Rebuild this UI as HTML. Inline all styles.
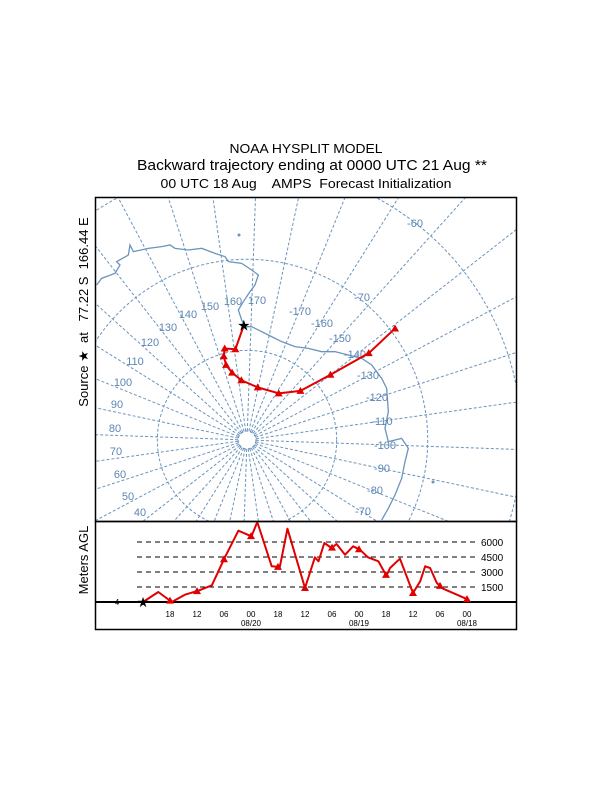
<!DOCTYPE html>
<html><head><meta charset="utf-8"><style>
html,body{margin:0;padding:0;background:#fff;width:612px;height:792px;overflow:hidden}
svg{display:block;font-family:"Liberation Sans",Arial,sans-serif}
</style></head><body>
<svg id="chart" width="612" height="792" viewBox="0 0 612 792">
<text x="306" y="153" font-size="13" text-anchor="middle" textLength="153" lengthAdjust="spacingAndGlyphs">NOAA HYSPLIT MODEL</text>
<text x="312" y="170" font-size="15" text-anchor="middle" textLength="350" lengthAdjust="spacingAndGlyphs">Backward trajectory ending at 0000 UTC 21 Aug **</text>
<text x="306" y="188" font-size="13" text-anchor="middle" textLength="291" lengthAdjust="spacingAndGlyphs" xml:space="preserve">00 UTC 18 Aug    AMPS  Forecast Initialization</text>
<text transform="translate(88,312) rotate(-90)" font-size="13" text-anchor="middle" xml:space="preserve">Source ★  at   77.22 S  166.44 E</text>
<text transform="translate(88,560) rotate(-90)" font-size="13" text-anchor="middle">Meters AGL</text>
<defs><clipPath id="mapclip"><rect x="96" y="198" width="420" height="323"/></clipPath></defs>
<g id="map" clip-path="url(#mapclip)"></g>
<rect x="95.5" y="197.5" width="421" height="324" fill="none" stroke="#000" stroke-width="1.5"/>
<g id="prof"></g>
<rect x="95.5" y="521.5" width="421" height="108" fill="none" stroke="#000" stroke-width="1.5"/>
</svg>
<script>
// trajectory data (lat, lon)
const trajLat = [-77.22,-79.8,-79.5,-80.3,-81.3,-82.3,-83.3,-84.0,-83.7,-81.9,-78.2,-73.4,-69.5];
const trajLon = [166.44,160.7,154.3,152.5,152.4,155.5,162.6,179.5,-157.8,-144.6,-140,-137.5,-139];
// height profile data
const hoursBack = [0,3.4,6.4,9.3,12.3,15.3,18.2,21.2,24.1,25.4,28.6,30.4,32.1,36,38.2,39,40.3,41.9,43,44.9,46.7,48.2,50,52.3,54.1,54.9,57.1,60,61.6,62.7,63.8,65.3,66.7,72.3];
const heights = [0,1000,0,730,1130,1670,4470,7130,6570,8000,3570,3500,7330,1400,4470,4070,5900,5400,5800,4730,5570,5230,4470,4070,2630,3400,4330,900,2070,3570,3400,1900,1330,230];
const levels = [1500,3000,4500,6000];
const timeTicks = ["18","12","06","00","18","12","06","00","18","12","06","00"];
const dateLabels = [["08/20",24],["08/19",48],["08/18",72]];
const labelPos = {"-60":[415,223],"-70":[362,297],"-170":[300,311],"-160":[322,323],"-150":[340,338],"-140":[355,354],"-130":[368,375],"-120":[377,397],"-110":[382,421],"-100":[385,445],"-90":[382,468],"-80":[375,490],"-70b":[363,511],"170":[257,300],"160":[233,301],"150":[210,306],"140":[188,314],"130":[168,327],"120":[150,342],"110":[135,361],"100":[123,382],"90":[117,404],"80":[115,428],"70":[116,451],"60":[120,474],"50":[128,496],"40":[140,512]};
const NS="http://www.w3.org/2000/svg";
const CX=247, CY=440, K=1025, BLUE="#6b94bd";
const RX0=96,RX1=516,RY0=198,RY1=521;
function el(tag,attrs,parent){const e=document.createElementNS(NS,tag);for(const k in attrs)e.setAttribute(k,attrs[k]);parent.appendChild(e);return e;}
function wrap(a){a=((a%360)+360)%360;return a>180?a-360:a;}
function proj(lat,lon){const r=K*Math.tan((90+lat)/2*Math.PI/180);const th=(-2-wrap(lon+100))*Math.PI/180;return [CX+r*Math.cos(th),CY-r*Math.sin(th)];}
const map=document.getElementById('map');
[-89,-80,-70,-60].forEach(lat=>{const r=K*Math.tan((90+lat)/2*Math.PI/180);
 const c=el('circle',{cx:CX,cy:CY,r:r,fill:'none',stroke:BLUE,'stroke-width':1,'stroke-dasharray':'3,2'},map);
 
 });
for(let lon=-180;lon<180;lon+=10){const a=proj(-89,lon),b=proj(-80,lon);
 const dx=b[0]-a[0],dy=b[1]-a[1];let t=1e9;
 if(dx>0)t=Math.min(t,(RX1-a[0])/dx);if(dx<0)t=Math.min(t,(RX0-a[0])/dx);
 if(dy>0)t=Math.min(t,(RY1-a[1])/dy);if(dy<0)t=Math.min(t,(RY0-a[1])/dy);
 const l=el('line',{x1:a[0],y1:a[1],x2:a[0]+dx*t,y2:a[1]+dy*t,stroke:BLUE,'stroke-width':1,'stroke-dasharray':'3,2'},map);
 
 }
const coastZ=[[5,270],[20,250],[60,235],[75,210],[65,200],[100,180],[105,150],[115,170],[160,160],[200,155],[225,150],[240,160],[280,165],[320,160],[360,175],[390,185],[400,200],[440,205],[470,225],[490,240],[480,270],[465,290],[445,320],[430,345],[440,375],[450,395],[470,395],[520,420],[560,440],[600,455],[640,460],[680,470],[720,470],[760,480],[800,490],[830,510],[860,550],[875,580],[880,650],[870,700],[880,740],[920,730],[940,760],[930,800],[920,850],[900,900],[880,940],[860,975]];
const cp=el('polyline',{points:coastZ.map(p=>(95+p[0]/3)+','+(195+p[1]/3)).join(' '),fill:'none',stroke:BLUE,'stroke-width':1.3},map);


[[239,235],[433,482]].forEach(p=>{const d=el('circle',{cx:p[0],cy:p[1],r:1.5,fill:BLUE},map);
 
 });
for(const k in labelPos){const p=labelPos[k];const t=el('text',{x:p[0],y:p[1]+4,'font-size':11,fill:'#5b86b3','text-anchor':'middle'},map);t.textContent=k.replace('b','');
 
 }
const tp=trajLat.map((la,i)=>proj(la,trajLon[i]));
const tl=el('polyline',{points:tp.map(p=>p.join(',')).join(' '),fill:'none',stroke:'#e00000','stroke-width':2,'stroke-linejoin':'round'},map);


tp.slice(1).forEach(p=>{const m=el('polygon',{points:`${p[0]},${p[1]-4} ${p[0]-4},${p[1]+3} ${p[0]+4},${p[1]+3}`,fill:'#e00000'},map);
 
 });
const st=el('text',{x:tp[0][0],y:tp[0][1]+5,'font-size':15,'text-anchor':'middle',fill:'#000'},map);st.textContent='★';


const prof=document.getElementById('prof');
const X0=143, PX=4.5, Y0=602, PY=15/1500;
const xs=h=>X0+h*PX, ys=m=>Y0-m*PY;
levels.forEach(v=>{const l=el('line',{x1:137,x2:475,y1:ys(v),y2:ys(v),stroke:'#000','stroke-dasharray':'5,4','stroke-width':1},prof);
 
 
 const t=el('text',{x:481,y:ys(v)+4,'font-size':10},prof);t.textContent=v;
 
 });
const bl=el('line',{x1:96,x2:516,y1:Y0,y2:Y0,stroke:'#000','stroke-width':2},prof);


timeTicks.forEach((t,i)=>{const x=xs((i+1)*6);const e=el('text',{x:x,y:617,'font-size':8,'text-anchor':'middle'},prof);e.textContent=t;
 
 });
dateLabels.forEach(d=>{const e=el('text',{x:xs(d[1]),y:626,'font-size':8,'text-anchor':'middle'},prof);e.textContent=d[0];
 
 });
const hl=el('polyline',{points:hoursBack.map((h,i)=>xs(h)+','+ys(heights[i])).join(' '),fill:'none',stroke:'#e00000','stroke-width':2,'stroke-linejoin':'round'},prof);


function hAt(h){for(let i=1;i<hoursBack.length;i++){if(h<=hoursBack[i]){const f=(h-hoursBack[i-1])/(hoursBack[i]-hoursBack[i-1]);return heights[i-1]+f*(heights[i]-heights[i-1]);}}return heights[heights.length-1];}
for(let h=6;h<=72;h+=6){const x=xs(h),y=ys(hAt(h));const m=el('polygon',{points:`${x},${y-4} ${x-4},${y+3} ${x+4},${y+3}`,fill:'#e00000'},prof);
 
 }
const s2=el('text',{x:xs(0),y:Y0+5,'font-size':14,'text-anchor':'middle'},prof);s2.textContent='★';


const f4=el('text',{x:117,y:Y0+3,'font-size':8,'text-anchor':'middle'},prof);f4.textContent='4';


</script>
</body></html>
